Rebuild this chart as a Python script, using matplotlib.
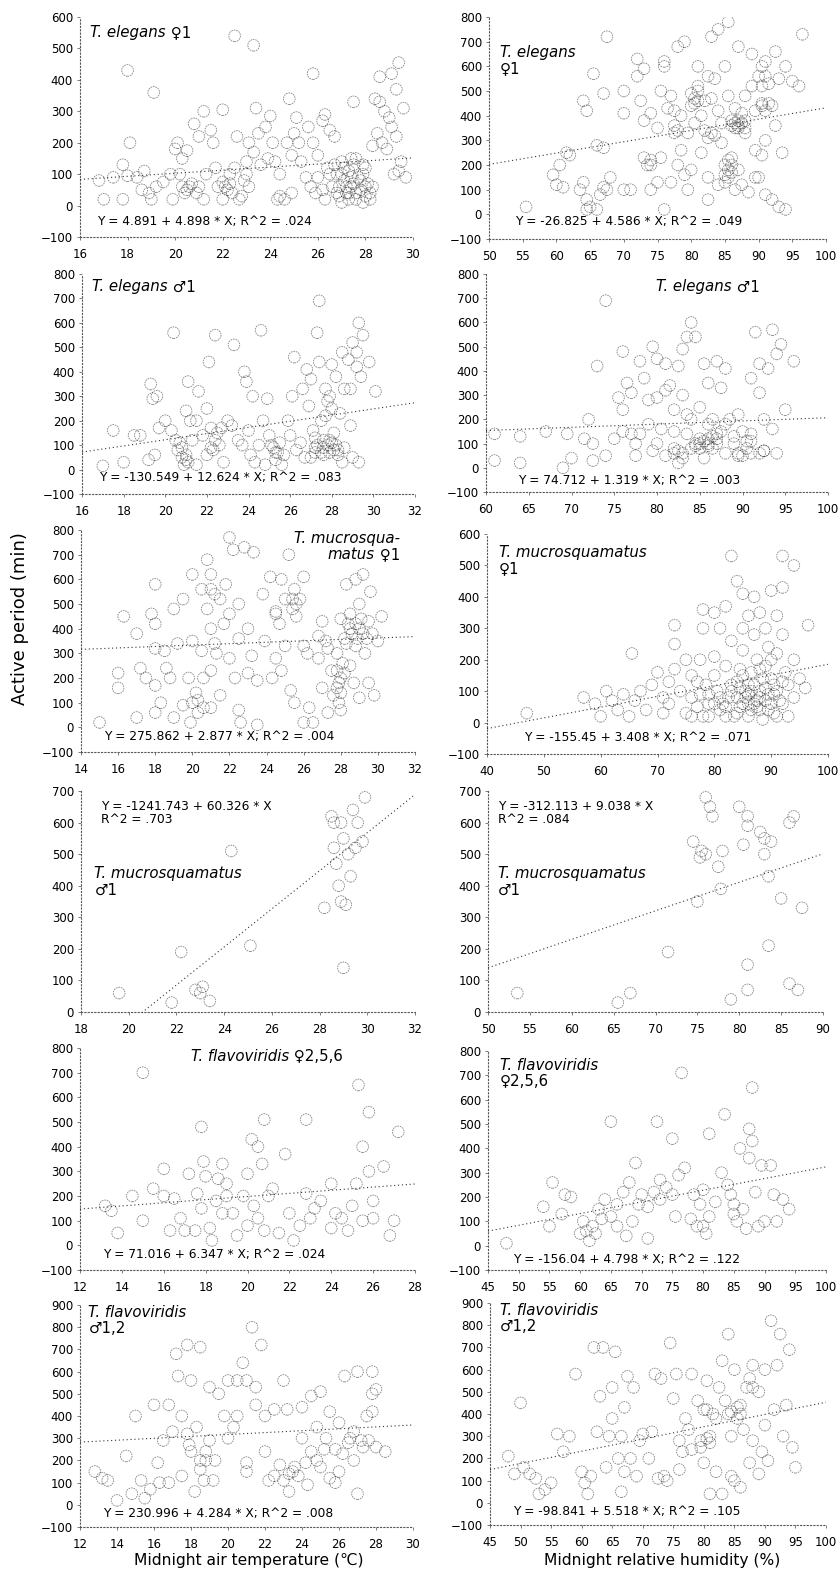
import matplotlib
matplotlib.use('Agg')
import numpy as np
import matplotlib.pyplot as plt
from matplotlib.offsetbox import TextArea, HPacker, VPacker, AnchoredOffsetbox

plt.rcParams['font.family'] = ['DejaVu Sans']

W, H = 838, 1580

#####################################################################
# Data: (x, active period in min)

# T. elegans female, air temperature
elegans_f_temp = [
    (22.5, 540), (23.3, 510), (18.0, 430), (19.1, 360), (25.8, 420), (28.6, 410), (29.4, 455),
    (29.1, 420), (24.8, 340), (21.2, 300), (22.0, 305), (23.4, 310), (24.0, 285), (20.8, 260),
    (18.1, 200), (17.0, 20), (17.8, 20), (16.8, 80), (17.4, 90), (17.8, 130), (18.0, 95),
    (18.4, 90), (18.7, 110), (18.6, 50), (18.9, 40), (19.0, 20), (19.2, 60), (19.5, 75),
    (19.8, 100), (20.0, 180), (20.1, 200), (20.3, 150), (20.5, 175), (20.3, 60), (20.5, 50),
    (20.7, 70), (20.9, 40), (21.0, 60), (21.2, 20), (21.3, 100), (21.0, 220), (21.5, 240),
    (21.6, 200), (21.7, 120), (21.8, 60), (22.0, 75), (22.2, 50), (22.3, 100), (22.4, 40),
    (22.5, 120), (22.6, 220), (22.7, 20), (22.9, 80), (23.0, 140), (23.1, 200), (23.3, 170),
    (23.5, 230), (23.6, 130), (23.8, 250), (23.1, 60), (22.8, 30), (23.9, 150), (24.2, 140),
    (24.4, 30), (24.6, 20), (24.4, 100), (24.7, 200), (24.9, 160), (25.0, 230), (25.2, 200),
    (25.3, 140), (25.5, 90), (25.6, 250), (25.8, 200), (26.0, 160), (26.0, 90), (26.2, 50),
    (26.3, 290), (26.5, 240), (26.7, 220), (26.4, 120), (26.6, 60), (26.8, 100), (26.9, 30),
    (27.0, 140), (27.1, 80), (27.2, 40), (27.3, 110), (27.4, 60), (27.5, 130), (27.6, 20),
    (27.7, 90), (27.8, 50), (27.9, 100), (28.0, 30), (28.1, 70), (28.2, 40), (27.3, 20),
    (27.0, 10), (26.9, 60), (27.6, 150), (28.3, 190), (28.5, 230), (28.7, 200), (28.8, 300),
    (29.0, 280), (29.1, 250), (28.9, 180), (29.3, 370), (29.3, 220), (29.6, 310), (29.5, 140),
    (29.4, 110), (29.7, 90), (29.2, 100), (28.6, 330), (28.4, 340), (27.5, 330), (26.2, 270),
    (25.1, 280), (25.9, 40), (24.9, 40), (20.2, 100), (19.9, 20), (22.0, 20), (23.0, 100),
    (24.1, 200), (25.7, 60), (26.3, 20), (27.4, 150), (27.9, 130), (28.0, 120), (28.2, 20),
    (26.5, 100), (26.7, 130), (27.0, 100), (27.2, 60), (27.4, 90), (27.6, 40), (27.8, 80),
    (28.0, 60), (27.1, 120), (27.5, 70), (26.8, 40), (27.9, 10), (28.3, 60), (27.3, 40),
    (20.4, 40), (20.6, 60), (22.1, 60), (22.3, 70), (24.3, 20),
]

# T. elegans female, relative humidity
elegans_f_hum = [
    (55.5, 30), (59.5, 160), (60, 120), (61, 110), (60.5, 200), (61.5, 250), (62, 240),
    (63.5, 100), (64, 130), (64.5, 60), (64.5, 20), (65, 30), (66, 20), (66.5, 80), (67, 110),
    (68, 150), (67.5, 100), (64, 460), (64.5, 420), (65.5, 570), (67, 490), (67.5, 720),
    (66, 280), (67, 270), (70, 100), (71, 100), (70, 500), (70, 410), (72, 630), (72, 560),
    (73, 590), (72.5, 460), (73, 380), (73, 230), (74, 200), (74, 100), (75, 130), (75, 350),
    (75.5, 230), (76, 600), (76, 620), (76.5, 430), (77, 480), (77, 130), (76, 20), (77.5, 330),
    (78, 680), (78.5, 260), (78, 200), (79, 700), (79.5, 330), (80, 490), (80, 180), (79.5, 100),
    (80.5, 450), (81, 520), (81, 600), (81.5, 400), (82, 340), (82.5, 560), (82.5, 150),
    (83, 470), (83, 720), (83.5, 320), (84, 750), (84, 420), (84.5, 370), (85, 600), (85, 200),
    (85.5, 780), (85.5, 150), (86, 380), (86, 230), (86.5, 430), (87, 350), (87, 680),
    (87.5, 120), (88, 480), (88.5, 90), (88, 330), (89, 650), (89, 520), (89.5, 260), (90, 150),
    (90, 560), (90.5, 450), (91, 620), (91, 300), (91, 80), (91.5, 530), (92, 440), (92, 60),
    (92.5, 660), (92.5, 360), (93, 550), (93, 30), (93.5, 250), (94, 20), (94, 600), (95, 540),
    (96, 520), (96.5, 730), (88, 380), (86.5, 370), (87.5, 410), (89.5, 420), (85.5, 480),
    (82, 460), (80.5, 370), (78.5, 400), (81.5, 250), (79, 160), (82.5, 60), (84, 120),
    (86.5, 100), (87, 180), (89.5, 150), (90.5, 240), (75.5, 500), (74, 410), (83.5, 550),
    (84.5, 290), (77.5, 420), (85.5, 220), (86, 170), (85, 130), (86, 360), (87, 380),
    (90.5, 440), (91, 420), (81, 460), (80.5, 470), (81, 500), (80, 440), (87, 360),
    (86.5, 350), (87.5, 370), (88, 350), (85.5, 180), (85, 160), (86, 200), (90.5, 600),
    (91, 560), (90.5, 520), (91.5, 450), (73.5, 200), (74, 220), (78, 340), (77.5, 360),
    (83, 330), (82.5, 310),
]

# T. elegans male, air temperature
elegans_m_temp = [
    (17, 15), (18, 30), (17.5, 160), (18.5, 140), (18.8, 140), (19.3, 350), (19.4, 290),
    (19.6, 300), (19.2, 40), (19.5, 60), (19.7, 170), (20, 200), (20.3, 160), (20.5, 120),
    (20.6, 80), (20.8, 50), (20.9, 20), (21, 60), (21.1, 30), (20.4, 560), (21.1, 360),
    (21.2, 200), (21, 240), (21.3, 120), (21.5, 200), (21.6, 320), (21.8, 140), (22, 250),
    (22.1, 440), (22, 60), (22.3, 80), (22.4, 550), (22.5, 150), (22.6, 100), (22.7, 170),
    (22.8, 30), (23, 200), (23.2, 180), (23.3, 510), (23.5, 120), (23.8, 400), (23.9, 360),
    (24, 160), (24.2, 300), (24.1, 60), (24.3, 30), (24.6, 570), (24.7, 200), (24.5, 100),
    (24.9, 290), (25, 140), (25.2, 90), (25.3, 40), (25.5, 110), (25.7, 60), (25.9, 200),
    (26, 140), (26.1, 300), (26.2, 460), (26.5, 110), (26.6, 330), (26.8, 410), (26.9, 260),
    (27, 370), (27.1, 160), (27.2, 90), (27.3, 560), (27.4, 440), (27.4, 690), (27.5, 200),
    (27.6, 120), (27.7, 330), (27.8, 280), (27.9, 70), (28, 430), (28.1, 150), (28.2, 380),
    (28.3, 60), (28.4, 230), (28.5, 480), (28.6, 90), (28.8, 450), (28.9, 330), (29, 520),
    (29, 50), (29.2, 420), (29.3, 600), (29.4, 380), (29.5, 550), (29.8, 440), (30.1, 320),
    (29.3, 30), (28.9, 180), (27, 50), (27.8, 100), (26.7, 50), (22.2, 170), (20.7, 110),
    (21.5, 20), (24.8, 20), (25.6, 20), (28.5, 30), (27.6, 60), (27.3, 100), (28.1, 80),
    (26.3, 80), (23.7, 100), (27.5, 70), (27.9, 120), (28.2, 100), (27.2, 130), (25.4, 70),
    (20.8, 90), (21, 40), (22.2, 90), (22.4, 120), (25.3, 70), (25.1, 100), (27.2, 70),
    (27.6, 90), (28, 110), (28.3, 80), (27.7, 220), (27.9, 300), (28.0, 250), (28.6, 330),
    (29.2, 480),
]

# T. elegans male, relative humidity
elegans_m_hum = [
    (61, 30), (61, 140), (64, 130), (64, 20), (67, 150), (69, 0), (69.5, 140), (70, 40),
    (71.5, 120), (72, 200), (72.5, 100), (72.5, 30), (73, 420), (74, 690), (74, 50), (75, 120),
    (75.5, 290), (76, 240), (76, 480), (76.5, 350), (77, 310), (77.5, 100), (77.5, 50),
    (78, 440), (78.5, 370), (79, 180), (79.5, 500), (79.5, 70), (80, 450), (80, 290),
    (80.5, 160), (81, 430), (81, 50), (81.5, 340), (82, 240), (82, 80), (82.5, 420), (82.5, 20),
    (83, 490), (83, 300), (83.5, 540), (83.5, 140), (84, 600), (84, 80), (84.5, 540), (85, 250),
    (85, 100), (85.5, 430), (85.5, 40), (86, 350), (86, 120), (86.5, 200), (87, 440), (87, 100),
    (87.5, 330), (88, 410), (88, 60), (88.5, 200), (89, 100), (89.5, 220), (89.5, 50),
    (90, 150), (90.5, 110), (91, 370), (91.5, 560), (91, 60), (92, 310), (92, 430), (92.5, 200),
    (92.5, 70), (93, 410), (93.5, 570), (93.5, 160), (94, 470), (94, 60), (94.5, 510),
    (95, 240), (96, 440), (84.5, 100), (85.5, 110), (86.5, 130), (87.5, 150), (83, 60),
    (82, 150), (80, 100), (78, 140), (90, 50), (89, 130), (88, 180), (91, 140), (92, 60),
    (84, 200), (86, 180), (83.5, 220), (81, 320), (79, 280), (85, 80), (86, 90), (87, 120),
    (84.5, 90), (85, 120), (86, 100), (86.5, 80), (87, 140), (82, 60), (82.5, 70), (83, 40),
    (90.5, 80), (91, 110), (92.5, 70), (89.5, 60), (77, 140), (76, 150),
]

# T. mucrosquamatus female, air temperature
mucro_f_temp = [
    (15, 20), (16, 160), (16, 220), (16.3, 450), (17, 380), (17, 40), (17.2, 240), (17.5, 200),
    (17.8, 460), (18, 580), (18, 420), (18, 320), (18, 170), (18, 60), (18.3, 100), (18.5, 310),
    (18.6, 240), (18.8, 200), (19, 40), (19, 480), (19.2, 340), (19.5, 520), (19.5, 90),
    (19.8, 200), (19.9, 20), (20, 620), (20, 350), (20, 100), (20.2, 140), (20.3, 60),
    (20.5, 560), (20.5, 310), (20.6, 200), (20.8, 680), (20.8, 480), (21, 620), (21, 400),
    (21, 230), (21, 80), (21.2, 340), (21.5, 520), (21.5, 130), (21.8, 580), (22, 460),
    (22, 280), (22, 770), (22.2, 720), (22.3, 200), (22.5, 500), (22.5, 360), (22.5, 70),
    (22.6, 20), (22.8, 730), (23, 400), (23, 220), (23.2, 290), (23.3, 710), (23.5, 190),
    (23.5, 10), (23.8, 540), (23.9, 350), (24.2, 610), (24.3, 200), (24.5, 460), (24.5, 280),
    (24.8, 600), (24.8, 230), (25, 520), (25, 330), (25.2, 700), (25.3, 150), (25.4, 480),
    (25.5, 560), (25.5, 100), (25.8, 520), (26, 610), (26, 330), (26, 20), (26.2, 300),
    (26.3, 80), (26.5, 20), (26.8, 280), (27, 430), (27, 160), (27.2, 350), (27.3, 60),
    (27.5, 230), (27.6, 130), (27.8, 300), (28, 440), (28, 200), (28, 70), (28.2, 360),
    (28.3, 580), (28.5, 460), (28.5, 250), (28.6, 380), (28.8, 600), (28.8, 330), (29, 500),
    (29, 400), (29, 120), (29.2, 620), (29.3, 300), (29.5, 430), (29.5, 180), (29.6, 550),
    (29.7, 380), (30, 350), (30.2, 450), (29.8, 130), (27.9, 100), (27.3, 320), (28.1, 260),
    (28.7, 180), (26.8, 370), (25.6, 450), (24.7, 420), (21.3, 300), (21.7, 420), (28.4, 420),
    (28.9, 360), (29.1, 440), (28.2, 220), (27.8, 160), (28.5, 400), (28.8, 420), (29.2, 380),
    (29.4, 360), (28.3, 340), (27.8, 230), (27.9, 180), (28.0, 140), (25.4, 520), (25.6, 500),
    (24.5, 470), (21, 560), (21.2, 540), (20.3, 110), (20.6, 80),
]

# T. mucrosquamatus female, relative humidity
mucro_f_hum = [
    (47, 30), (57, 80), (59, 60), (60, 20), (61, 100), (62, 70), (63, 40), (64, 90), (65, 20),
    (65.5, 220), (66, 70), (67, 100), (68, 40), (69, 120), (70, 160), (71, 30), (71, 80),
    (72, 130), (72, 60), (73, 310), (73, 250), (73, 170), (74, 100), (75, 30), (75, 200),
    (76, 150), (76, 80), (77, 50), (77.5, 200), (78, 360), (78, 300), (78.5, 120), (79, 60),
    (79, 20), (80, 350), (80, 210), (80.5, 100), (81, 300), (81, 40), (82, 370), (82, 180),
    (82.5, 80), (83, 530), (83, 260), (83.5, 20), (84, 450), (84, 130), (84.5, 50), (85, 410),
    (85, 300), (85, 230), (85.5, 100), (86, 340), (86, 20), (86.5, 160), (87, 400), (87, 280),
    (87, 60), (87.5, 200), (88, 350), (88, 100), (88.5, 10), (89, 300), (89, 180), (89.5, 240),
    (89.5, 40), (90, 420), (90, 140), (90.5, 90), (91, 340), (91, 220), (91, 20), (92, 530),
    (92, 430), (92, 280), (92, 60), (92.5, 160), (93, 120), (93, 20), (94, 500), (94, 200),
    (94, 80), (95, 140), (96, 110), (96.5, 310), (84, 80), (85, 60), (86, 120), (87.5, 70),
    (88.5, 140), (83, 100), (81.5, 60), (80, 150), (78, 20), (82, 20), (89, 70), (90.5, 30),
    (86.5, 40), (84.5, 170), (77, 130), (76, 20), (80, 60), (81, 80), (82, 50), (83, 120),
    (84, 30), (85, 150), (86, 90), (87, 120), (88, 40), (89, 110), (90, 60), (91, 100),
    (92, 130), (86, 60), (84.5, 110), (88, 170), (90, 200), (79, 90), (77.5, 90),
    (85.5, 80), (86.5, 100), (87.5, 50), (88, 80), (89.5, 90), (90.5, 120), (91.5, 70),
]

# T. mucrosquamatus male, air temperature
mucro_m_temp = [
    (19.6, 60), (21.8, 30), (22.2, 190), (22.8, 70), (23, 60), (23.1, 80), (23.4, 35),
    (24.3, 510), (25.1, 210), (28.2, 330), (28.5, 620), (28.6, 520), (28.7, 470), (28.8, 400),
    (28.9, 600), (29, 140), (29, 550), (29.1, 340), (29.3, 430), (29.4, 640), (29.5, 520),
    (29.6, 600), (29.8, 540), (29.9, 680), (28.9, 350), (28.6, 600), (29.2, 500),
]

# T. mucrosquamatus male, relative humidity
mucro_m_hum = [
    (53.5, 60), (65.5, 30), (67, 60), (71.5, 190), (74.5, 540), (75, 350), (75.3, 490),
    (75.5, 510), (76, 500), (76, 680), (76.5, 650), (76.8, 620), (77.5, 460), (77.8, 390),
    (78, 510), (79, 40), (80, 650), (80.5, 530), (81, 620), (81, 590), (81, 150), (81, 70),
    (82.5, 570), (83, 550), (83, 500), (83.5, 430), (83.5, 210), (83.8, 540), (85, 360),
    (86, 600), (86, 90), (86.5, 620), (87, 70), (87.5, 330),
]

# T. flavoviridis female, air temperature
flavo_f_temp = [
    (13.2, 160), (13.5, 140), (13.8, 50), (14.5, 200), (15, 700), (15, 100), (15.5, 230),
    (16, 310), (16, 200), (16.3, 60), (16.5, 190), (16.8, 110), (17, 60), (17.2, 290),
    (17.5, 60), (17.6, 210), (17.8, 480), (17.8, 150), (17.9, 340), (18, 280), (18.2, 70),
    (18.3, 20), (18.5, 180), (18.6, 270), (18.8, 130), (19, 200), (19, 250), (19.5, 40),
    (19.8, 200), (20, 290), (20, 80), (20.2, 430), (20.5, 400), (20.5, 110), (20.7, 330),
    (20.8, 510), (21, 200), (21.2, 230), (21.5, 50), (21.8, 370), (22, 130), (22.2, 20),
    (22.5, 80), (22.8, 210), (22.8, 510), (23.2, 150), (23.5, 180), (24, 250), (24, 70),
    (24.2, 130), (24.5, 110), (24.8, 60), (25, 160), (25.2, 250), (25.3, 650), (25.5, 400),
    (25.5, 100), (25.8, 300), (25.8, 540), (26, 180), (26, 110), (26.5, 320), (27, 100),
    (27.2, 460), (26.8, 40), (20.8, 60), (19.3, 130), (18.8, 330), (20.3, 160), (23, 110),
]

# T. flavoviridis female, relative humidity
flavo_f_hum = [
    (48, 10), (54, 160), (55, 80), (55.5, 260), (57.5, 210), (58.5, 200), (60, 50), (60.5, 100),
    (61, 60), (61.5, 20), (62, 80), (62.5, 50), (63, 150), (64, 190), (65, 510), (65, 120),
    (66, 80), (67, 220), (67.5, 40), (68, 260), (68.5, 100), (69, 340), (69.5, 170), (70, 210),
    (71, 30), (72, 220), (72.5, 510), (73, 190), (74, 240), (75, 440), (75, 210), (75.5, 120),
    (76, 290), (76.5, 710), (77, 320), (78, 110), (78.5, 210), (79, 80), (79.5, 170), (80, 230),
    (80.5, 50), (81, 460), (81, 120), (82, 180), (83, 300), (83.5, 540), (84, 250), (84.5, 210),
    (85, 130), (85.5, 100), (86, 400), (86.5, 150), (87, 70), (87.5, 480), (87.5, 360),
    (88, 650), (88, 430), (89, 80), (89.5, 330), (90, 100), (91, 330), (91.5, 210), (92, 100),
    (94, 150), (93, 190), (85, 170), (80, 80), (73, 270), (71, 160), (66, 170), (63.5, 110),
    (57, 130), (88.5, 220),
]

# T. flavoviridis male, air temperature
flavo_m_temp = [
    (12.8, 150), (13.2, 120), (13.5, 110), (14, 20), (14.5, 220), (14.8, 50), (15, 400),
    (15.3, 110), (15.5, 30), (15.8, 70), (16, 450), (16.2, 190), (16.5, 290), (16.8, 450),
    (16.8, 100), (17, 330), (17.2, 680), (17.3, 580), (17.5, 400), (17.5, 130), (17.8, 720),
    (17.8, 320), (18, 560), (18, 240), (18.2, 60), (18.3, 350), (18.5, 710), (18.5, 200),
    (18.7, 110), (19, 290), (19, 530), (19.2, 110), (19.5, 500), (19.8, 400), (20, 560),
    (20, 300), (20.3, 350), (20.5, 400), (20.5, 560), (20.8, 640), (21, 560), (21, 190),
    (21, 150), (21.3, 800), (21.5, 450), (21.5, 530), (21.8, 720), (22, 400), (22, 240),
    (22.2, 110), (22.5, 430), (22.5, 130), (22.8, 180), (23, 560), (23, 110), (23.2, 430),
    (23.5, 150), (23.8, 130), (24, 300), (24, 440), (24.2, 190), (24.5, 240), (24.5, 490),
    (24.8, 350), (25, 510), (25, 170), (25.3, 300), (25.5, 120), (25.5, 420), (25.8, 250),
    (26, 370), (26, 150), (26.3, 580), (26.5, 280), (26.8, 330), (27, 600), (27, 50),
    (27.2, 290), (27.5, 400), (27.8, 600), (27.8, 500), (28, 260), (28.5, 240), (26.8, 200),
    (25.8, 100), (24.3, 90), (23.3, 60), (19.3, 200), (18.8, 240), (17.9, 270), (16.3, 100),
    (23.3, 140), (23.6, 170), (24.8, 200), (25.2, 250), (26.2, 230), (27.3, 260), (27.6, 290),
    (26.6, 300), (18.8, 200), (18.5, 160), (27.8, 420), (28, 520),
]

# T. flavoviridis male, relative humidity
flavo_m_hum = [
    (48, 210), (49, 130), (50, 450), (50.5, 160), (51.5, 130), (52.5, 110), (53, 40), (54, 60),
    (55, 90), (56, 310), (57, 230), (58, 300), (59, 580), (60, 140), (60.5, 90), (61, 40),
    (61.5, 120), (62, 700), (62.5, 320), (63, 480), (63.5, 700), (64, 160), (64.5, 300),
    (65, 380), (65, 520), (65.5, 680), (66, 200), (66.5, 300), (67, 430), (67, 140),
    (67.5, 570), (68, 200), (68.5, 520), (69, 120), (70, 310), (71, 200), (71.5, 320),
    (72, 580), (72.5, 110), (73, 560), (73.5, 120), (74, 100), (74.5, 720), (75, 470),
    (75.5, 580), (76, 280), (76.5, 230), (77, 380), (77.5, 330), (78, 580), (78, 240),
    (79, 460), (79.5, 280), (80, 420), (80, 180), (80.5, 550), (81, 300), (81, 40), (82, 380),
    (82, 140), (82.5, 520), (83, 640), (83, 40), (83.5, 460), (84, 760), (84, 400), (84.5, 300),
    (85, 600), (85, 100), (85.5, 430), (86, 70), (86.5, 330), (87, 520), (87.5, 180),
    (88, 620), (88, 280), (89, 500), (89, 130), (90, 600), (90, 350), (90.5, 190), (91, 820),
    (91.5, 420), (92, 620), (92.5, 760), (93, 300), (93.5, 440), (94, 690), (94.5, 250),
    (95, 160), (89.5, 230), (86, 400), (84.5, 120), (76, 150), (69.5, 280), (66.5, 50),
    (79.5, 250), (80.5, 290), (81, 270), (80.5, 420), (81.5, 400), (84.5, 410), (85.5, 380),
    (86, 440), (88, 520), (87.5, 560),
]

# regression intercept / slope and text, same order as panels
intercepts = [4.891, -26.825, -130.549, 74.712, 275.862, -155.45,
              -1241.743, -312.113, 71.016, -156.04, 230.996, -98.841]
slopes = [4.898, 4.586, 12.624, 1.319, 2.877, 3.408,
          60.326, 9.038, 6.347, 4.798, 4.284, 5.518]
eq_texts = [
    "Y = 4.891 + 4.898 * X; R^2 = .024",
    "Y = -26.825 + 4.586 * X; R^2 = .049",
    "Y = -130.549 + 12.624 * X; R^2 = .083",
    "Y = 74.712 + 1.319 * X; R^2 = .003",
    "Y = 275.862 + 2.877 * X; R^2 = .004",
    "Y = -155.45 + 3.408 * X; R^2 = .071",
    "Y = -1241.743 + 60.326 * X\nR^2 = .703",
    "Y = -312.113 + 9.038 * X\nR^2 = .084",
    "Y = 71.016 + 6.347 * X; R^2 = .024",
    "Y = -156.04 + 4.798 * X; R^2 = .122",
    "Y = 230.996 + 4.284 * X; R^2 = .008",
    "Y = -98.841 + 5.518 * X; R^2 = .105",
]

# species labels: lines of (text, italic) segments
species_labels = [
    [[("T. elegans", True), (" ♀1", False)]],
    [[("T. elegans", True)], [("♀1", False)]],
    [[("T. elegans", True), (" ♂1", False)]],
    [[("T. elegans", True), (" ♂1", False)]],
    [[("T. mucrosqua-", True)], [("matus", True), (" ♀1", False)]],
    [[("T. mucrosquamatus", True)], [("♀1", False)]],
    [[("T. mucrosquamatus", True)], [("♂1", False)]],
    [[("T. mucrosquamatus", True)], [("♂1", False)]],
    [[("T. flavoviridis", True), (" ♀2,5,6", False)]],
    [[("T. flavoviridis", True)], [("♀2,5,6", False)]],
    [[("T. flavoviridis", True)], [("♂1,2", False)]],
    [[("T. flavoviridis", True)], [("♂1,2", False)]],
]

panel_data = [elegans_f_temp, elegans_f_hum, elegans_m_temp, elegans_m_hum,
              mucro_f_temp, mucro_f_hum, mucro_m_temp, mucro_m_hum,
              flavo_f_temp, flavo_f_hum, flavo_m_temp, flavo_m_hum]

#####################################################################
# Layout: axes box in pixels (left, top, right, bottom), limits, tick step

layout = [
    dict(box=(80, 17, 413, 237), xlim=(16, 30), xstep=2, ylim=(-100, 600),
         eq=(0.05, 0.07), lab=(0.03, 0.965, 'left')),
    dict(box=(489, 17, 826, 239), xlim=(50, 100), xstep=5, ylim=(-100, 800),
         eq=(0.077, 0.077), lab=(0.033, 0.875, 'left')),
    dict(box=(82, 274, 415, 494), xlim=(16, 32), xstep=2, ylim=(-100, 800),
         eq=(0.05, 0.073), lab=(0.03, 0.975, 'left')),
    dict(box=(486, 274, 828, 492), xlim=(60, 100), xstep=5, ylim=(-100, 800),
         eq=(0.094, 0.055), lab=(0.80, 0.975, 'right')),
    dict(box=(81, 530, 415, 752), xlim=(14, 32), xstep=2, ylim=(-100, 800),
         eq=(0.07, 0.068), lab=(0.955, 0.995, 'right')),
    dict(box=(487, 534, 828, 754), xlim=(40, 100), xstep=10, ylim=(-100, 600),
         eq=(0.11, 0.077), lab=(0.035, 0.95, 'left')),
    dict(box=(81, 791, 415, 1012), xlim=(18, 32), xstep=2, ylim=(0, 700),
         eq=(0.06, 0.96), lab=(0.04, 0.66, 'left')),
    dict(box=(488, 791, 823, 1012), xlim=(50, 90), xstep=5, ylim=(0, 700),
         eq=(0.03, 0.96), lab=(0.03, 0.66, 'left')),
    dict(box=(80, 1048, 415, 1270), xlim=(12, 28), xstep=2, ylim=(-100, 800),
         eq=(0.07, 0.072), lab=(0.33, 0.995, 'left')),
    dict(box=(488, 1051, 826, 1270), xlim=(45, 100), xstep=5, ylim=(-100, 800),
         eq=(0.074, 0.05), lab=(0.035, 0.97, 'left')),
    dict(box=(80, 1305, 413, 1527), xlim=(12, 30), xstep=2, ylim=(-100, 900),
         eq=(0.07, 0.063), lab=(0.025, 1.0, 'left')),
    dict(box=(490, 1303, 826, 1525), xlim=(45, 100), xstep=5, ylim=(-100, 900),
         eq=(0.07, 0.06), lab=(0.03, 1.0, 'left')),
]


def style_axes(ax, spec):
    for side in ('top', 'right'):
        ax.spines[side].set_visible(False)
    for side in ('left', 'bottom'):
        ax.spines[side].set_linestyle((0, (1, 2)))
        ax.spines[side].set_linewidth(0.8)
        ax.spines[side].set_color('#555555')
    x0, x1 = spec['xlim']
    y0, y1 = spec['ylim']
    ax.set_xlim(x0, x1)
    ax.set_ylim(y0, y1)
    ax.set_xticks(np.arange(x0, x1 + 0.01, spec['xstep']))
    ax.set_yticks(np.arange(y0, y1 + 1, 100))
    ax.tick_params(labelsize=8.5, length=2, width=0.6, color='#666666', pad=3)
    ax.tick_params(axis='x', pad=6)
    ax.patch.set_visible(False)


def species_box(lines, ha):
    rows = []
    for segs in lines:
        parts = [TextArea(t, textprops=dict(fontsize=10.8, style='italic' if it else 'normal'))
                 for t, it in segs]
        rows.append(HPacker(children=parts, align='baseline', pad=0, sep=0))
    return VPacker(children=rows, align=ha, pad=0, sep=1)


fig = plt.figure(figsize=(W / 100, H / 100), dpi=100)

for i, spec in enumerate(layout):
    l, t, r, b = spec['box']
    ax = fig.add_axes([l / W, 1 - b / H, (r - l) / W, (b - t) / H])
    style_axes(ax, spec)

    pts = np.array(panel_data[i], dtype=float)
    ax.scatter(pts[:, 0], pts[:, 1], s=70, facecolors='none', edgecolors='#222222',
               linewidths=0.6, alpha=0.55, linestyle=(0, (2, 1)), zorder=2)

    xs = np.array(spec['xlim'], dtype=float)
    ax.plot(xs, intercepts[i] + slopes[i] * xs, color='#333333', lw=0.8,
            linestyle=(0, (1, 2.5)), zorder=3)

    ex, ey = spec['eq']
    ax.text(ex, ey, eq_texts[i], transform=ax.transAxes, fontsize=8.8,
            ha='left', va='top' if '\n' in eq_texts[i] else 'center', linespacing=1.05)

    lx, ly, ha = spec['lab']
    box = species_box(species_labels[i], ha)
    anchored = AnchoredOffsetbox(loc='upper left' if ha == 'left' else 'upper right',
                                 child=box, pad=0, borderpad=0, frameon=False,
                                 bbox_to_anchor=(lx, ly), bbox_transform=ax.transAxes)
    ax.add_artist(anchored)

fig.text(20 / W, 1 - 619 / H, "Active period (min)", rotation=90, fontsize=13,
         ha='center', va='center')
fig.text(249 / W, 1 - 1560 / H, "Midnight air temperature (℃)", fontsize=11.2,
         ha='center', va='center')
fig.text(662 / W, 1 - 1560 / H, "Midnight relative humidity (%)", fontsize=11.2,
         ha='center', va='center')

fig.savefig('out.png', dpi=100)
